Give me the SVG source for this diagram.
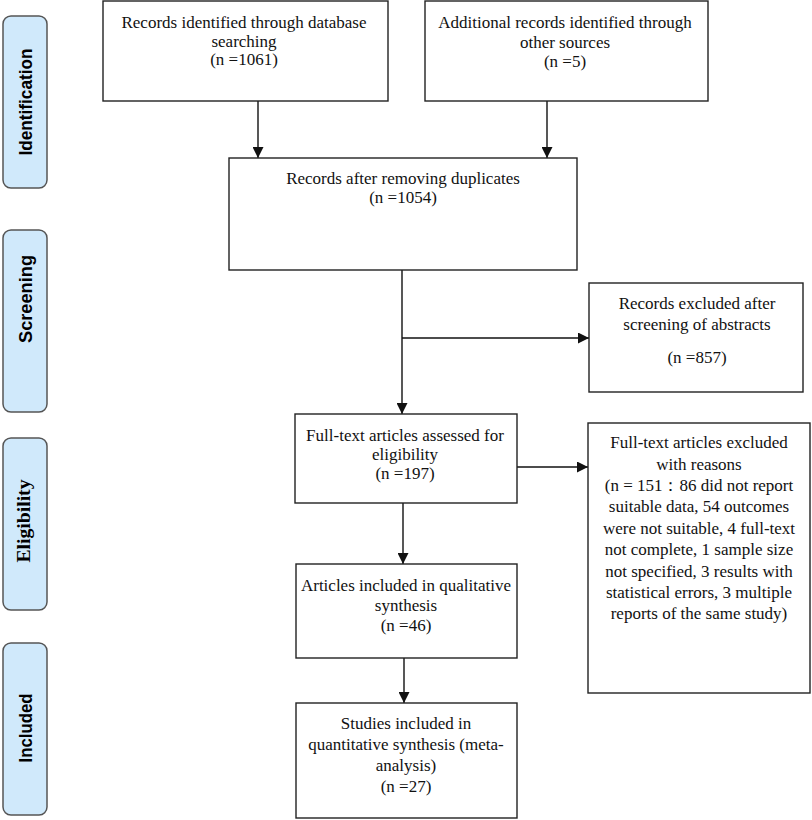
<svg xmlns="http://www.w3.org/2000/svg" width="812" height="820" viewBox="0 0 812 820">
<style>
.box{fill:#fff;stroke:#222;stroke-width:1.4}
.side{fill:#d0e9fb;stroke:#555;stroke-width:1.5}
.t{font-family:"Liberation Serif","Times New Roman",serif;font-size:17px;fill:#111;text-anchor:middle}
.s{font-family:"Liberation Sans",Arial,sans-serif;font-size:18px;font-weight:bold;fill:#000;text-anchor:middle}
.se{font-family:"Liberation Serif","Times New Roman",serif;font-size:19px;font-weight:bold;fill:#000;text-anchor:middle}
.c{stroke:#111;stroke-width:1.4;fill:none;marker-end:url(#ah)}
</style>
<defs>
<marker id="ah" markerUnits="userSpaceOnUse" markerWidth="11" markerHeight="11" refX="11" refY="5.5" orient="auto">
<path d="M0,0 L11,5.5 L0,11 z" fill="#111"/>
</marker>
</defs>
<rect width="812" height="820" fill="#fff"/>
<g id="side-identification">
<rect class="side" x="3" y="16" width="44" height="172" rx="8"/>
<text class="s" transform="translate(32,102) rotate(-90)" textLength="107" lengthAdjust="spacingAndGlyphs">Identification</text>
</g>
<g id="side-screening">
<rect class="side" x="3" y="230" width="44" height="182" rx="8"/>
<text class="s" transform="translate(32,299) rotate(-90)" textLength="88" lengthAdjust="spacingAndGlyphs">Screening</text>
</g>
<g id="side-eligibility">
<rect class="side" x="3" y="438" width="44" height="172" rx="8"/>
<text class="se" transform="translate(30,521) rotate(-90)" textLength="83" lengthAdjust="spacingAndGlyphs">Eligibility</text>
</g>
<g id="side-included">
<rect class="side" x="3" y="643" width="44" height="172" rx="8"/>
<text class="s" transform="translate(32,728) rotate(-90)" textLength="69" lengthAdjust="spacingAndGlyphs">Included</text>
</g>
<g id="connectors">
<line class="c" x1="258" y1="101" x2="258" y2="158"/>
<line class="c" x1="547" y1="101" x2="547" y2="158"/>
<line class="c" x1="402" y1="270" x2="402" y2="414"/>
<line class="c" x1="402" y1="338" x2="589" y2="338"/>
<line class="c" x1="517" y1="467" x2="588" y2="467"/>
<line class="c" x1="403" y1="503" x2="403" y2="564"/>
<line class="c" x1="404" y1="658" x2="404" y2="703"/>
</g>
<g id="records-database">
<rect class="box" x="103" y="1" width="285" height="100"/>
<text class="t" x="244" y="28">Records identified through database</text>
<text class="t" x="244" y="46.5">searching</text>
<text class="t" x="244" y="65">(n =1061)</text>
</g>
<g id="records-other">
<rect class="box" x="425" y="1" width="283" height="100"/>
<text class="t" x="565" y="28">Additional records identified through</text>
<text class="t" x="565" y="48">other sources</text>
<text class="t" x="565" y="67">(n =5)</text>
</g>
<g id="records-dedup">
<rect class="box" x="229" y="158" width="348" height="112"/>
<text class="t" x="403" y="184">Records after removing duplicates</text>
<text class="t" x="403" y="202.5">(n =1054)</text>
</g>
<g id="excluded-abstracts">
<rect class="box" x="589" y="283" width="214" height="109"/>
<text class="t" x="697" y="309">Records excluded after</text>
<text class="t" x="697" y="330">screening of abstracts</text>
<text class="t" x="697" y="363">(n =857)</text>
</g>
<g id="fulltext-assessed">
<rect class="box" x="295" y="414" width="222" height="89"/>
<text class="t" x="405" y="441">Full-text articles assessed for</text>
<text class="t" x="405" y="459.5">eligibility</text>
<text class="t" x="405" y="479">(n =197)</text>
</g>
<g id="fulltext-excluded">
<rect class="box" x="588" y="423" width="222" height="270"/>
<text class="t" x="699" y="448">Full-text articles excluded</text>
<text class="t" x="699" y="469.5">with reasons</text>
<text class="t" x="699" y="491">(n = 151：86 did not report</text>
<text class="t" x="699" y="512">suitable data, 54 outcomes</text>
<text class="t" x="699" y="534">were not suitable, 4 full-text</text>
<text class="t" x="699" y="555">not complete, 1 sample size</text>
<text class="t" x="699" y="577">not specified, 3 results with</text>
<text class="t" x="699" y="598">statistical errors, 3 multiple</text>
<text class="t" x="699" y="619">reports of the same study)</text>
</g>
<g id="qualitative">
<rect class="box" x="296" y="564" width="221" height="94"/>
<text class="t" x="406" y="591">Articles included in qualitative</text>
<text class="t" x="406" y="611">synthesis</text>
<text class="t" x="406" y="631">(n =46)</text>
</g>
<g id="quantitative">
<rect class="box" x="296" y="703" width="221" height="115"/>
<text class="t" x="406" y="729">Studies included in</text>
<text class="t" x="406" y="750">quantitative synthesis (meta-</text>
<text class="t" x="406" y="771">analysis)</text>
<text class="t" x="406" y="792">(n =27)</text>
</g>
</svg>
